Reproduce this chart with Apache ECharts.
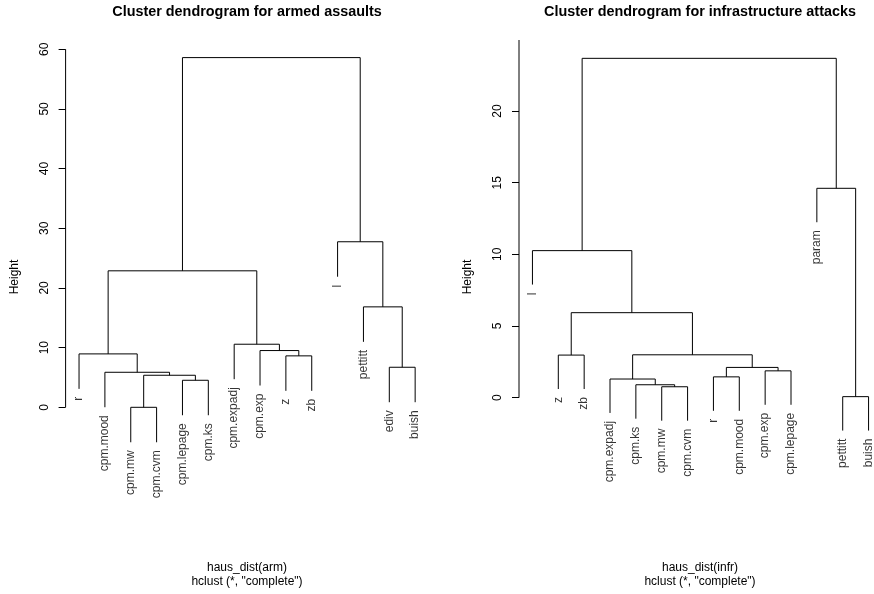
<!DOCTYPE html>
<html><head><meta charset="utf-8">
<script src="https://cdn.jsdelivr.net/npm/echarts@6/dist/echarts.min.js"></script>
<style>html,body{margin:0;padding:0;background:#fff}#c{width:874px;height:594px}</style>
</head><body><div id="c"></div>
<script>
// ---------- data: armed assaults (leaf labels in plotted order) ----------
const armLabels = ["r","cpm.mood","cpm.mw","cpm.cvm","cpm.lepage","cpm.ks","cpm.expadj","cpm.exp","z","zb","l","pettitt","ediv","buish"];
// hclust-style merge rows: negative = leaf (1-based position), positive = earlier merge row
const armMerge = [[-3,-4],[-5,-6],[1,2],[-2,3],[-13,-14],[-9,-10],[-1,4],[-8,6],[-7,8],[-12,5],[7,9],[-11,10],[11,12]];
const armHeights = [0.0, 4.53, 5.37, 5.87, 6.71, 8.62, 8.95, 9.51, 10.57, 16.83, 22.87, 27.74, 58.6];
const armTicks = [0, 10, 20, 30, 40, 50, 60];

// ---------- data: infrastructure attacks ----------
const infrLabels = ["l","z","zb","cpm.expadj","cpm.ks","cpm.mw","cpm.cvm","r","cpm.mood","cpm.exp","cpm.lepage","param","pettitt","buish"];
const infrMerge = [[-13,-14],[-6,-7],[-5,2],[-4,3],[-8,-9],[-10,-11],[5,6],[-2,-3],[4,7],[8,9],[-1,10],[-12,1],[11,12]];
const infrHeights = [0.07, 0.76, 0.90, 1.30, 1.45, 1.87, 2.11, 2.97, 2.99, 5.93, 10.26, 14.61, 23.68];
const infrTicks = [0, 5, 10, 15, 20];

const hang = 0.1;
// plot ranges (R "usr" coordinates; right panel is cropped at the page edge)
const armX = [0.48, 14.52];
const infrX = [0.48, 14.21];
const armY = [-17.88, 61.55];
const infrY = [-8.12, 24.96];

function buildDendro(labels, merge, heights) {
  const maxH = Math.max(...heights);
  const hangLen = hang * maxH;
  const nodeX = [];
  const links = [];
  const leaves = [];
  function pos(ref, h) {
    if (ref < 0) {
      const i = -ref;
      const y = h - hangLen;
      leaves.push([i, y, labels[i - 1]]);
      return [i, y];
    }
    return [nodeX[ref - 1], heights[ref - 1]];
  }
  merge.forEach((m, k) => {
    const h = heights[k];
    const a = pos(m[0], h), b = pos(m[1], h);
    nodeX[k] = (a[0] + b[0]) / 2;
    links.push([a[0], a[1], b[0], b[1], h]);
  });
  return { links, leaves };
}

const arm = buildDendro(armLabels, armMerge, armHeights);
const infr = buildDendro(infrLabels, infrMerge, infrHeights);

const FONT = "Liberation Sans";

function renderLink(params, api) {
  const h = api.value(4);
  const p1 = api.coord([api.value(0), api.value(1)]);
  const p2 = api.coord([api.value(0), h]);
  const p3 = api.coord([api.value(2), h]);
  const p4 = api.coord([api.value(2), api.value(3)]);
  return { type: 'polyline', shape: { points: [p1, p2, p3, p4] },
           style: { stroke: '#000', lineWidth: 1, fill: null } };
}

function yAxisCfg(idx, range, ticks) {
  return {
    type: 'value', gridIndex: idx, min: range[0], max: range[1],
    name: 'Height', nameLocation: 'middle', nameGap: 45,
    nameTextStyle: { fontFamily: FONT, fontSize: 12, color: '#000' },
    axisLine: { show: false },
    axisTick: { show: true, customValues: ticks, length: 7, lineStyle: { color: '#000', width: 1 } },
    axisLabel: { show: true, customValues: ticks, rotate: 90, margin: 15, fontFamily: FONT, fontSize: 12, color: '#000' },
    splitLine: { show: false }
  };
}

function leafSeries(idx, leaves) {
  return {
    type: 'scatter', xAxisIndex: idx, yAxisIndex: idx, data: leaves, symbolSize: 0, silent: true,
    label: { show: true, formatter: p => p.value[2], position: 'bottom', distance: 8, rotate: 90,
             align: 'right', verticalAlign: 'middle', fontFamily: FONT, fontSize: 12, color: '#000' }
  };
}

function axisLineSeries(idx, x0, top) {
  return { type: 'line', xAxisIndex: idx, yAxisIndex: idx, data: [[x0, 0], [x0, top]],
           symbol: 'none', silent: true, lineStyle: { color: '#000', width: 1 } };
}

const chart = echarts.init(document.getElementById('c'), null, { renderer: 'canvas' });
chart.setOption({
  animation: false,
  backgroundColor: '#fff',
  title: [
    { text: 'Cluster dendrogram for armed assaults', left: 247, top: 5, textAlign: 'center', padding: 0,
      textStyle: { fontFamily: FONT, fontSize: 14.4, fontWeight: 'bold', color: '#000' } },
    { text: 'Cluster dendrogram for infrastructure attacks', left: 700, top: 5, textAlign: 'center', padding: 0,
      textStyle: { fontFamily: FONT, fontSize: 14.4, fontWeight: 'bold', color: '#000' } },
    { text: 'haus_dist(arm)', left: 247, top: 562, textAlign: 'center', padding: 0,
      textStyle: { fontFamily: FONT, fontSize: 12, fontWeight: 'normal', color: '#000' } },
    { text: 'hclust (*, "complete")', left: 247, top: 576, textAlign: 'center', padding: 0,
      textStyle: { fontFamily: FONT, fontSize: 12, fontWeight: 'normal', color: '#000' } },
    { text: 'haus_dist(infr)', left: 700, top: 562, textAlign: 'center', padding: 0,
      textStyle: { fontFamily: FONT, fontSize: 12, fontWeight: 'normal', color: '#000' } },
    { text: 'hclust (*, "complete")', left: 700, top: 576, textAlign: 'center', padding: 0,
      textStyle: { fontFamily: FONT, fontSize: 12, fontWeight: 'normal', color: '#000' } }
  ],
  grid: [
    { left: 65.6, top: 40, width: 363, height: 474 },
    { left: 519, top: 40, width: 355, height: 474 }
  ],
  xAxis: [
    { type: 'value', gridIndex: 0, min: armX[0], max: armX[1], show: false },
    { type: 'value', gridIndex: 1, min: infrX[0], max: infrX[1], show: false }
  ],
  yAxis: [ yAxisCfg(0, armY, armTicks), yAxisCfg(1, infrY, infrTicks) ],
  series: [
    { type: 'custom', xAxisIndex: 0, yAxisIndex: 0, data: arm.links, renderItem: renderLink, silent: true, clip: false,
      encode: { x: [0, 2], y: [1, 3, 4] } },
    { type: 'custom', xAxisIndex: 1, yAxisIndex: 1, data: infr.links, renderItem: renderLink, silent: true, clip: false,
      encode: { x: [0, 2], y: [1, 3, 4] } },
    leafSeries(0, arm.leaves),
    leafSeries(1, infr.leaves),
    axisLineSeries(0, armX[0], armTicks[armTicks.length - 1]),
    axisLineSeries(1, infrX[0], infrY[1])
  ]
});
</script></body></html>
